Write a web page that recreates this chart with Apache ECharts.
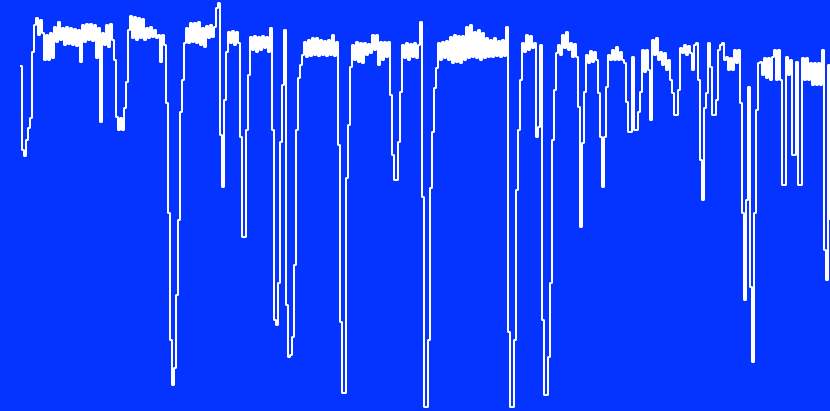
<!DOCTYPE html>
<html>
<head>
<meta charset="utf-8">
<script src="https://cdn.jsdelivr.net/npm/echarts@6/dist/echarts.min.js"></script>
<style>
    html, body { margin: 0; padding: 0; background: #0533ff; }
    #chart { width: 830px; height: 411px; }
</style>
</head>
<body>
<div id="chart"></div>
<script>
// depth readings, one every step, left to right
const depthPart1 = [
    66, 150, 156, 140, 128, 118, 52, 25, 18, 35,
    20, 33, 60, 35, 60, 33, 58, 27, 42, 22,
    40, 28, 45, 27, 44, 28, 45, 29, 46, 30,
    62, 25, 42, 24, 40, 24, 41, 25, 58, 28,
    122, 33, 45, 25, 47, 24, 40, 60, 117, 130,
    118, 130, 108, 82, 30, 16, 38, 17, 40, 18,
    38, 19, 40, 28, 38, 27, 37, 30, 38, 35,
    62, 35, 45, 103, 213, 340, 385, 368, 295, 220,
    112, 80, 43, 28, 43, 23, 42, 23, 43, 22,
    45, 28, 47, 26, 38, 25, 37, 27, 8, 3
];
const depthPart2 = [
    135, 187, 100, 52, 32, 43, 31, 45, 32, 43,
    137, 237, 237, 130, 75, 37, 50, 36, 52, 37,
    50, 36, 48, 37, 52, 28, 130, 320, 325, 283,
    142, 85, 30, 305, 357, 355, 337, 265, 130, 78,
    65, 55, 42, 57, 40, 56, 38, 55, 38, 56,
    40, 55, 41, 56, 40, 55, 35, 56, 42, 145,
    322, 393, 393, 178, 125, 67, 45, 60, 42, 62,
    43, 63, 43, 55, 44, 53, 35, 50, 35, 65,
    42, 60, 42, 57, 42, 95, 155, 180, 180, 142,
    92, 45, 58, 43, 60, 44, 57, 43, 58, 45
];
const depthPart3 = [
    22, 197, 407, 407, 340, 188, 132, 88, 68, 43,
    60, 42, 58, 41, 60, 37, 63, 35, 62, 36,
    63, 36, 60, 27, 58, 25, 57, 32, 58, 30,
    60, 33, 58, 38, 57, 40, 57, 38, 56, 41,
    57, 40, 56, 27, 332, 407, 407, 340, 190, 130,
    80, 43, 52, 35, 50, 36, 48, 43, 137, 127,
    45, 320, 395, 395, 357, 283, 140, 90, 53, 45,
    55, 35, 48, 32, 50, 43, 57, 44, 57, 107,
    227, 143, 92, 55, 63, 51, 62, 52, 60, 93,
    137, 187, 137, 87, 55, 60, 50, 60, 47, 60
];
const depthPart4 = [
    52, 60, 63, 102, 132, 132, 57, 130, 130, 112,
    92, 50, 72, 50, 70, 120, 40, 55, 38, 60,
    52, 65, 53, 70, 60, 80, 93, 115, 115, 90,
    48, 53, 45, 55, 46, 53, 70, 45, 43, 80,
    160, 200, 108, 93, 43, 67, 115, 115, 100, 50,
    45, 43, 60, 57, 70, 58, 70, 50, 63, 50,
    103, 213, 300, 200, 87, 287, 362, 213, 110, 63,
    62, 75, 58, 78, 58, 80, 57, 50, 80, 50,
    80, 185, 185, 57, 75, 60, 155, 155, 62, 185,
    185, 58, 80, 58, 80, 63, 85, 63, 85, 63,
    85, 50, 250, 280, 65, 220
];

const depth = [...depthPart1, ...depthPart2, ...depthPart3, ...depthPart4];
const steps = depth.map((_, i) => String(i));

// svg keeps the 2px steps; the canvas path merges them into diagonals
const chart = echarts.init(document.getElementById("chart"), null, { renderer: "svg" });

chart.setOption({
    animation: false,
    backgroundColor: "#0533ff",
    grid: {
        top: 0,
        right: 0,
        bottom: 0,
        left: 20
    },
    xAxis: {
        type: "category",
        data: steps,
        boundaryGap: false,
        show: false
    },
    yAxis: {
        type: "value",
        inverse: true,
        min: 0,
        max: 411,
        show: false
    },
    series: [{
        type: "line",
        step: "end",
        data: depth,
        symbol: "none",
        clip: false,
        lineStyle: {
            color: "#ffffff",
            width: 2
        }
    }]
});
</script>
</body>
</html>
